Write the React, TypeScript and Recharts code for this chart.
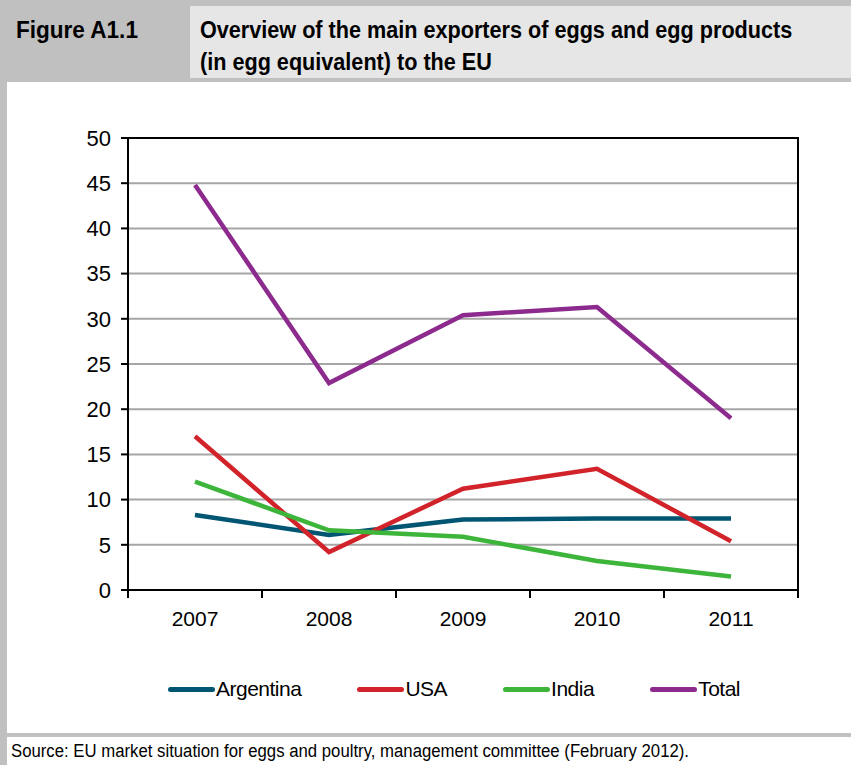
import {
  LineChart,
  Line,
  XAxis,
  YAxis,
  CartesianGrid,
  Legend,
  ReferenceArea,
} from "recharts"

const years = ["2007", "2008", "2009", "2010", "2011"]
const argentina = [8.3, 6.1, 7.8, 7.9, 7.9]
const usa = [17.0, 4.2, 11.2, 13.4, 5.4]
const india = [12.0, 6.6, 5.9, 3.2, 1.5]
const total = [44.8, 22.9, 30.4, 31.3, 19.0]
const yTicks = [0, 5, 10, 15, 20, 25, 30, 35, 40, 45, 50]

const series = [
  { key: "Argentina", color: "#005573" },
  { key: "USA", color: "#d2232a" },
  { key: "India", color: "#3db53a" },
  { key: "Total", color: "#8c2a8e" },
]

const data = years.map((year, i) => ({
  year,
  Argentina: argentina[i],
  USA: usa[i],
  India: india[i],
  Total: total[i],
}))

const font = '"Liberation Sans", Arial, sans-serif'
const frame = "#c0c0c0"

// category ticks: label in the middle of the band, tick marks on the band edges (Excel style)
const renderYearTick = (props: any) => {
  const { x, y, payload, index, visibleTicksCount } = props
  const off = payload.offset || 0
  return (
    <g>
      <line x1={x - off} x2={x - off} y1={y} y2={y + 8} stroke="#000" strokeWidth={2} />
      {index === visibleTicksCount - 1 && (
        <line x1={x + off} x2={x + off} y1={y} y2={y + 8} stroke="#000" strokeWidth={2} />
      )}
      <text x={x} y={y + 28} textAnchor="middle" dominantBaseline="central" fontFamily={font} fontSize={21} fill="#000">
        {payload.value}
      </text>
    </g>
  )
}

const renderLegend = () => (
  <div style={{ display: "flex", paddingLeft: 168, height: 60, alignItems: "flex-start" }}>
    {series.map(s => (
      <div key={s.key} style={{ display: "flex", alignItems: "center", marginRight: 56 }}>
        <div style={{ width: 47, height: 5, borderRadius: 3, background: s.color }} />
        <span style={{ fontFamily: font, fontSize: 21, letterSpacing: -0.5, color: "#000", lineHeight: "32px", marginLeft: 1 }}>
          {s.key}
        </span>
      </div>
    ))}
  </div>
)

const condensed = {
  position: "absolute" as const,
  transformOrigin: "left top",
  whiteSpace: "nowrap" as const,
  fontFamily: font,
  color: "#000",
}

export default function App() {
  return (
    <div style={{ position: "relative", width: 851, height: 765, background: "#fff", overflow: "hidden" }}>
      <style>{"body{margin:0}"}</style>

      <div style={{ position: "absolute", left: 0, top: 0, width: 851, height: 82, background: frame }} />
      <div style={{ position: "absolute", left: 190, top: 6, width: 661, height: 72, background: "#e6e6e6" }} />
      <div style={{ ...condensed, transform: "scaleX(0.98)", left: 16, top: 14, fontWeight: "bold", fontSize: 23, lineHeight: "32px" }}>
        Figure A1.1
      </div>
      <div style={{ ...condensed, transform: "scaleX(0.94)", left: 200, top: 14, fontWeight: "bold", fontSize: 23, lineHeight: "32px" }}>
        Overview of the main exporters of eggs and egg products
        <br />
        (in egg equivalent) to the EU
      </div>

      <div style={{ position: "absolute", left: 0, top: 0, width: 7, height: 765, background: frame }} />
      <div style={{ position: "absolute", left: 0, top: 733, width: 851, height: 4, background: frame }} />
      <div style={{ ...condensed, transform: "scaleX(0.93)", left: 11, top: 739, fontSize: 18, lineHeight: "24px" }}>
        Source: EU market situation for eggs and poultry, management committee (February 2012).
      </div>

      <div style={{ position: "absolute", left: 0, top: 82 }}>
        <LineChart width={851} height={651} data={data} margin={{ top: 56, right: 53, bottom: 0, left: 0 }}>
          <CartesianGrid vertical={false} stroke="#a6a6a6" strokeWidth={2} />
          <ReferenceArea y1={0} y2={50} fill="none" stroke="#000" strokeWidth={2} ifOverflow="visible" />
          <XAxis
            dataKey="year"
            scale="band"
            tickLine={false}
            tickSize={0}
            tickMargin={0}
            axisLine={{ stroke: "#000", strokeWidth: 2 }}
            tick={renderYearTick}
            interval={0}
            height={83}
          />
          <YAxis
            domain={[0, 50]}
            ticks={yTicks}
            interval={0}
            width={128}
            tickSize={7}
            tickLine={{ stroke: "#000", strokeWidth: 2 }}
            axisLine={{ stroke: "#000", strokeWidth: 2 }}
            tick={{ fontFamily: font, fontSize: 22, fill: "#000" }}
            tickMargin={10}
          />
          <Legend verticalAlign="bottom" content={renderLegend} />
          {series.map(s => (
            <Line
              key={s.key}
              type="linear"
              dataKey={s.key}
              stroke={s.color}
              strokeWidth={4.5}
              dot={false}
              activeDot={false}
              isAnimationActive={false}
            />
          ))}
        </LineChart>
      </div>
    </div>
  )
}
